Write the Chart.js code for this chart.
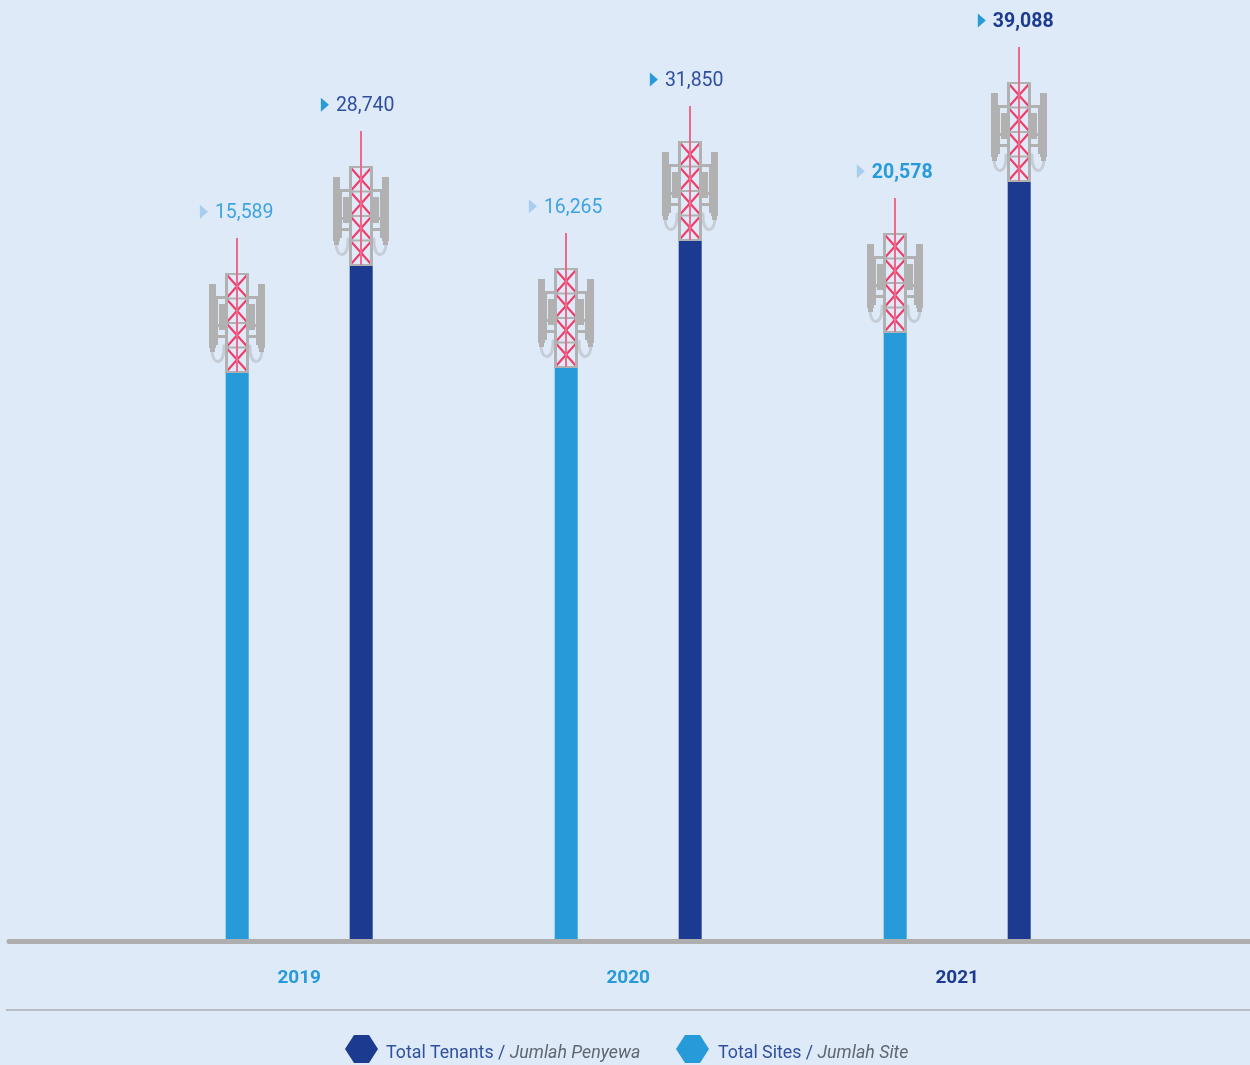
<!DOCTYPE html>
<html>
<head>
<meta charset="utf-8">
<title>Total Tenants / Total Sites</title>
<script src="https://cdn.jsdelivr.net/npm/chart.js@4"></script>
<style>
  html, body { margin: 0; padding: 0; background: #deeaf8; overflow: hidden; }
  canvas { display: block; }
</style>
</head>
<body>
<canvas id="grafica" width="1250" height="1065"></canvas>
<script>
// datos
const years = ["2019", "2020", "2021"];
const totalSites = [15589, 16265, 20578];
const totalTenants = [28740, 31850, 39088];
const siteLabels = ["15,589", "16,265", "20,578"];
const tenantLabels = ["28,740", "31,850", "39,088"];

const BLUE = "#279ad9";
const NAVY = "#1c3a8f";
const FONT = "Roboto, sans-serif";
const GREY = "#b1b1b1";
const PINK = "#ee3f6b";

// the picture's value axis does not start at zero
const Y_MIN = -54030;
const Y_MAX = 61326;

// how each label is written: [text colour, triangle colour, weight]
const siteStyles = [["#3fa3de", "#a9cdee", 400], ["#3fa3de", "#a9cdee", 400], [BLUE, "#a9cdee", 700]];
const tenantStyles = [["#2f4f9f", BLUE, 400], ["#2f4f9f", BLUE, 400], [NAVY, BLUE, 700]];

// antenna tower sitting on top of a bar, x = bar centre, y = bar top
function drawTower(ctx, x, y) {
  ctx.save();
  ctx.translate(Math.round(x), Math.round(y));

  // cables
  ctx.strokeStyle = "#c6cdd6";
  ctx.lineWidth = 3;
  [-1, 1].forEach((s) => {
    ctx.beginPath();
    ctx.moveTo(s * 25, -22);
    ctx.bezierCurveTo(s * 25, -6, s * 12, -6, s * 13, -26);
    ctx.stroke();
  });

  // antennas and brackets
  ctx.fillStyle = GREY;
  [-1, 1].forEach((s) => {
    const box = (a, b, top, bottom) => {
      const left = s < 0 ? -b : a;
      ctx.fillRect(left, top, b - a, bottom - top);
    };
    box(21, 28, -88, -24);
    box(22, 27, -24, -20);
    box(12, 18, -68, -42);
    box(19, 22, -76, -27);
    box(11, 21, -76, -73);
    box(11, 19, -48, -45);
    box(11, 21, -37, -34);
  });

  // lattice
  const w = 11;
  const panels = [-98, -73.5, -49, -24.5, 0];
  ctx.strokeStyle = PINK;
  ctx.lineWidth = 2.2;
  for (let i = 0; i < 4; i++) {
    ctx.beginPath();
    ctx.moveTo(-w + 1, panels[i] + 1);
    ctx.lineTo(w - 1, panels[i + 1] - 1);
    ctx.moveTo(w - 1, panels[i] + 1);
    ctx.lineTo(-w + 1, panels[i + 1] - 1);
    ctx.stroke();
  }
  ctx.fillStyle = GREY;
  ctx.fillRect(-12, -98, 3, 98);
  ctx.fillRect(9, -98, 3, 98);
  panels.forEach((p) => ctx.fillRect(-12, p - 1, 24, 2));

  // mast
  ctx.fillStyle = "#ee6a8c";
  ctx.fillRect(-1, -134, 2, 134);
  ctx.restore();
}

function drawValueLabel(ctx, x, y, text, style, shift) {
  ctx.save();
  ctx.font = style[2] + " 19.5px " + FONT;
  ctx.textAlign = "left";
  ctx.textBaseline = "middle";
  const width = ctx.measureText(text).width;
  const left = x + shift - width / 2;
  ctx.fillStyle = style[0];
  ctx.fillText(text, left, y);
  ctx.fillStyle = style[1];
  ctx.beginPath();
  ctx.moveTo(left - 15, y - 8.5);
  ctx.lineTo(left - 7, y - 1.5);
  ctx.lineTo(left - 15, y + 5.5);
  ctx.closePath();
  ctx.fill();
  ctx.restore();
}

function drawHexagon(ctx, left, right, top, bottom, color) {
  const mid = (top + bottom) / 2;
  ctx.fillStyle = color;
  ctx.beginPath();
  ctx.moveTo(left, mid);
  ctx.lineTo(left + 9, top);
  ctx.lineTo(right - 9, top);
  ctx.lineTo(right, mid);
  ctx.lineTo(right - 9, bottom);
  ctx.lineTo(left + 9, bottom);
  ctx.closePath();
  ctx.fill();
}

function drawLegendEntry(ctx, x, textX, color, first, second) {
  drawHexagon(ctx, x, x + 33, 1035, 1063, color);
  ctx.textAlign = "left";
  ctx.textBaseline = "alphabetic";
  ctx.font = "400 17.8px " + FONT;
  ctx.fillStyle = "#2f4f9f";
  ctx.fillText(first, textX, 1058);
  const w = ctx.measureText(first).width;
  ctx.font = "italic 400 17.8px " + FONT;
  ctx.fillStyle = "#5f6670";
  ctx.fillText(second, textX + w, 1058);
}

const decoraciones = {
  id: "decoraciones",
  afterDatasetsDraw(chart) {
    const ctx = chart.ctx;
    const bottom = chart.chartArea.bottom;

    // base line and divider
    ctx.save();
    ctx.strokeStyle = "#aeaeae";
    ctx.lineWidth = 5;
    ctx.lineCap = "round";
    ctx.beginPath();
    ctx.moveTo(9, bottom + 2.5);
    ctx.lineTo(1260, bottom + 2.5);
    ctx.stroke();
    ctx.fillStyle = "#b8bcc4";
    ctx.fillRect(6, 1009, 1244, 2);

    // towers and value labels
    chart.getDatasetMeta(0).data.forEach((bar, i) => {
      drawTower(ctx, bar.x, bar.y);
      drawValueLabel(ctx, bar.x, bar.y - 159, siteLabels[i], siteStyles[i], 7);
    });
    chart.getDatasetMeta(1).data.forEach((bar, i) => {
      drawTower(ctx, bar.x, bar.y);
      drawValueLabel(ctx, bar.x, bar.y - 159, tenantLabels[i], tenantStyles[i], 4);
    });

    // legend
    drawLegendEntry(ctx, 345, 386, NAVY, "Total Tenants / ", "Jumlah Penyewa");
    drawLegendEntry(ctx, 676, 718, BLUE, "Total Sites / ", "Jumlah Site");
    ctx.restore();
  },
};

new Chart(document.getElementById("grafica"), {
  type: "bar",
  data: {
    labels: years,
    datasets: [
      { label: "Total Sites", data: totalSites, backgroundColor: BLUE, base: Y_MIN },
      { label: "Total Tenants", data: totalTenants, backgroundColor: NAVY, base: Y_MIN },
    ],
  },
  options: {
    responsive: false,
    animation: false,
    categoryPercentage: 0.7538,
    barPercentage: 0.1855,
    layout: { padding: { left: 134.7, right: 128.3, top: 0, bottom: 0 } },
    scales: {
      x: {
        grid: { display: false, drawTicks: false },
        border: { display: false },
        afterFit: (scale) => { scale.height = 126; },
        ticks: {
          padding: 28,
          maxRotation: 0,
          font: { family: FONT, size: 19, weight: 700 },
          color: (c) => (c.index === 2 ? NAVY : BLUE),
        },
      },
      y: { display: false, min: Y_MIN, max: Y_MAX },
    },
    plugins: { legend: { display: false }, tooltip: { enabled: false } },
  },
  plugins: [decoraciones],
});
</script>
</body>
</html>
